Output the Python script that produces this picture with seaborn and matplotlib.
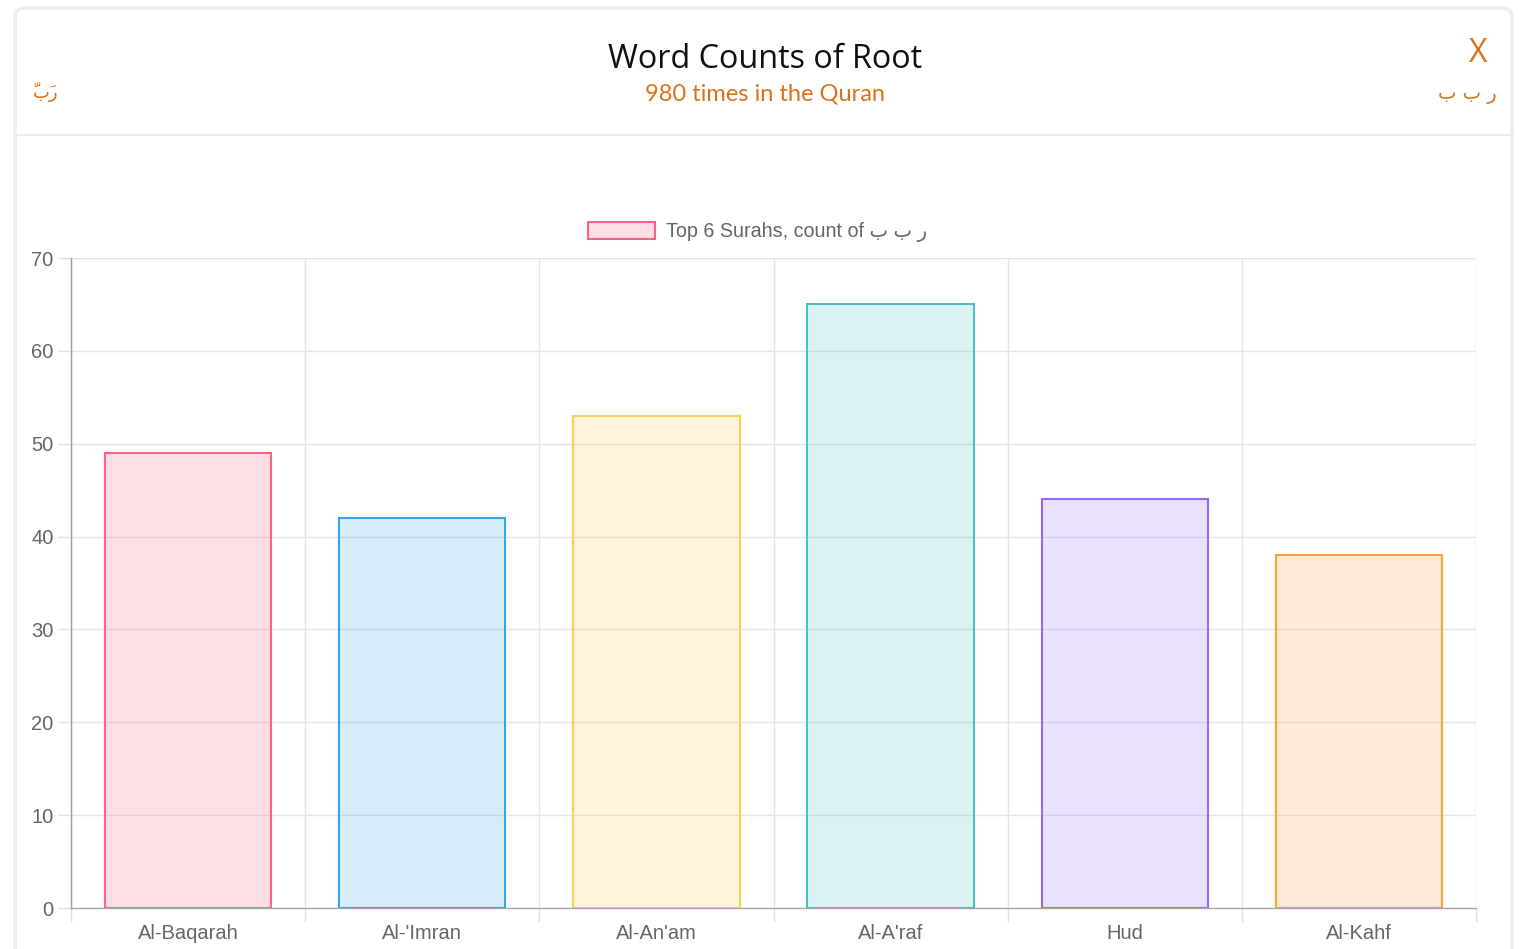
import matplotlib.pyplot as plt
import seaborn as sns
from matplotlib.patches import Patch, FancyBboxPatch
from matplotlib.lines import Line2D
from matplotlib.colors import to_rgba

# data
surahs = ["Al-Baqarah", "Al-'Imran", "Al-An'am", "Al-A'raf", "Hud", "Al-Kahf"]
counts = [49, 42, 53, 65, 44, 38]
border_colors = ["#ff6384", "#36a2eb", "#ffce56", "#4bc0c0", "#9966ff", "#ff9f40"]
y_ticks = [0, 10, 20, 30, 40, 50, 60, 70]

root_letters = "ب ب ر"          # visual (left-to-right) order of "ر ب ب"
root_word = "ّبَر"               # "رَبّ" in visual order, marks placed before their letter
title = "Word Counts of Root"
subtitle = "980 times in the Quran"
legend_label = "Top 6 Surahs, count of " + root_letters

W, H = 1519, 949
ORANGE = "#d9731a"
TICK_GREY = "#666666"
sans = ["Liberation Sans", "DejaVu Sans"]

sns.set_theme(style="white")
plt.rcParams["font.family"] = sans

fig = plt.figure(figsize=(W / 100, H / 100), dpi=100)
fig.patch.set_facecolor("white")

# card outline and header separator
card = FancyBboxPatch((15 / W, -0.02), 1497 / W, 1 - 8 / H + 0.02,
                      boxstyle="round,pad=0,rounding_size=0.008",
                      transform=fig.transFigure, facecolor="white",
                      edgecolor="#ededed", linewidth=2.5, zorder=-5)
fig.patches.append(card)
fig.lines.append(Line2D([16 / W, 1512 / W], [1 - 135 / H] * 2, transform=fig.transFigure,
                        color="#ececec", linewidth=1.5, zorder=-4))

# header texts
fig.text(765 / W, 1 - 59 / H, title, ha="center", va="center", fontsize=23.3,
         family=["Open Sans", "DejaVu Sans"], color="#111111")
fig.text(765 / W, 1 - 94 / H, subtitle, ha="center", va="center", fontsize=17,
         family=["Lato", "DejaVu Sans"], color=ORANGE)
fig.text(1478 / W, 1 - 53 / H, "X", ha="center", va="center", fontsize=23,
         family=["Open Sans", "DejaVu Sans"], color=ORANGE)
fig.text(1497 / W, 1 - 95 / H, root_letters, ha="right", va="center", fontsize=14,
         family=["DejaVu Sans"], color=ORANGE)
fig.text(33 / W, 1 - 92 / H, root_word, ha="left", va="center", fontsize=13,
         family=["DejaVu Sans"], color=ORANGE)

# chart area
left, right, top, bottom = 71, 1476, 258, 908
ax = fig.add_axes([left / W, 1 - bottom / H, (right - left) / W, (bottom - top) / H])
ax.set_zorder(1)
ax.patch.set_alpha(0)

fills = [to_rgba(c, 0.2) for c in border_colors]
sns.barplot(x=surahs, y=counts, hue=surahs, palette=fills, legend=False,
            width=0.71, ax=ax, saturation=1)
for patch, ec in zip(ax.patches, border_colors):
    patch.set_edgecolor(ec)
    patch.set_linewidth(1.5)

ax.set_ylim(0, 70)
ax.set_xlim(-0.5, len(surahs) - 0.5)
ax.set_yticks(y_ticks)
ax.set_xticks([i - 0.5 for i in range(len(surahs) + 1)], minor=True)
ax.set_xlabel("")
ax.set_ylabel("")

ax.grid(True, axis="y", color="#e5e5e5", linewidth=1)
ax.grid(True, axis="x", which="minor", color="#e5e5e5", linewidth=1)
ax.set_axisbelow(True)

ax.tick_params(axis="x", which="major", bottom=True, length=0, pad=11.5,
               labelsize=14.5, labelcolor=TICK_GREY)
ax.tick_params(axis="x", which="minor", bottom=True, length=10, width=1, color="#e0e0e0")
ax.tick_params(axis="y", left=True, length=9.5, width=1, color="#e0e0e0", pad=3,
               labelsize=14.5, labelcolor=TICK_GREY)

for side in ["top", "right"]:
    ax.spines[side].set_visible(False)
ax.spines["left"].set_color("#a0a0a0")
ax.spines["bottom"].set_color("#a8a8a8")
ax.spines["left"].set_linewidth(1)
ax.spines["bottom"].set_linewidth(1)

handle = Patch(facecolor=fills[0], edgecolor=border_colors[0], linewidth=1.5)
ax.legend([handle], [legend_label], loc="center", frameon=False,
          bbox_to_anchor=(0.4885, 1 + 26 / (bottom - top)),
          handlelength=3.4, handleheight=1.0, handletextpad=0.55,
          prop={"size": 14.2, "family": sans}, labelcolor=TICK_GREY)

fig.savefig("out.png", dpi=100, facecolor=fig.get_facecolor())
